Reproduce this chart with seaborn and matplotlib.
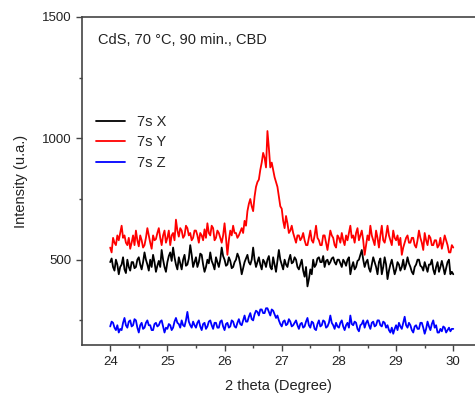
import numpy as np
import pandas as pd
import matplotlib
matplotlib.use("Agg")
import matplotlib.pyplot as plt
import seaborn as sns
from matplotlib.ticker import MultipleLocator

sns.set_style("ticks")
plt.rcParams['font.family'] = ['Liberation Sans', 'DejaVu Sans']

# 2 theta positions (degree), 0.025 step
theta = [round(24 + 0.025 * i, 3) for i in range(241)]

x_7s = [490, 505, 470, 455, 500, 480, 440, 470, 480, 510, 460, 445, 500, 470, 455, 490, 490, 465, 470, 500,
        510, 480, 460, 490, 530, 500, 480, 455, 500, 470, 520, 490, 450, 475, 495, 470, 540, 500, 470, 450,
        490, 515, 530, 495, 550, 510, 480, 460, 510, 485, 460, 500, 520, 475, 480, 505, 560, 520, 470, 490,
        510, 470, 490, 525, 520, 480, 450, 470, 500, 485, 530, 495, 480, 460, 510, 490, 470, 500, 550, 515,
        500, 475, 480, 510, 495, 465, 470, 490, 500, 525, 510, 480, 440, 465, 490, 505, 520, 490, 480, 500,
        550, 500, 470, 490, 510, 480, 460, 500, 490, 470, 500, 515, 470, 460, 510, 480, 450, 495, 540, 500,
        480, 460, 500, 480, 470, 500, 520, 485, 490, 510, 500, 470, 460, 480, 500, 455, 430, 470, 390, 420,
        460, 440, 500, 470, 480, 505, 510, 490, 490, 515, 470, 495, 500, 480, 490, 505, 510, 490, 480, 500,
        500, 485, 470, 500, 490, 475, 500, 510, 440, 470, 490, 460, 470, 495, 500, 520, 540, 500, 470, 490,
        500, 465, 450, 480, 510, 490, 470, 440, 490, 505, 440, 470, 510, 480, 420, 455, 480, 500, 470, 440,
        460, 490, 480, 455, 470, 500, 460, 480, 510, 485, 470, 450, 440, 470, 480, 500, 500, 475, 470, 455,
        490, 470, 450, 480, 480, 500, 460, 440, 470, 490, 450, 470, 495, 470, 440, 465, 490, 500, 440, 450,
        440]

y_7s = [550, 530, 590, 570, 560, 600, 580, 610, 640, 590, 600, 570, 560, 590, 545, 570, 600, 560, 620, 580,
        555, 600, 580, 550, 560, 590, 630, 600, 570, 545, 600, 580, 585, 610, 630, 590, 560, 600, 620, 570,
        590, 620, 560, 600, 610, 580, 665, 620, 595, 630, 620, 590, 600, 640, 630, 600, 610, 580, 590, 620,
        620, 600, 570, 610, 600, 580, 625, 590, 650, 610, 600, 640, 630, 580, 590, 620, 610, 590, 570, 600,
        650, 590, 520, 580, 620, 600, 640, 610, 610, 590, 600, 615, 630, 610, 660, 640, 700, 730, 750, 720,
        700, 760, 800, 820, 830, 870, 900, 940, 920, 880, 1030, 960, 880, 900, 870, 840, 820, 800, 760, 720,
        710, 660, 630, 680, 650, 610, 620, 640, 610, 590, 570, 600, 600, 580, 590, 610, 580, 560, 560, 590,
        620, 580, 570, 600, 640, 590, 580, 560, 560, 600, 600, 570, 540, 580, 620, 600, 590, 560, 550, 600,
        590, 570, 610, 580, 560, 600, 580, 610, 640, 590, 600, 570, 610, 630, 580, 600, 620, 580, 520, 560,
        600, 580, 640, 600, 580, 560, 620, 590, 550, 600, 640, 580, 570, 600, 640, 600, 580, 560, 620, 590,
        580, 600, 560, 590, 520, 550, 570, 590, 600, 570, 570, 590, 590, 560, 550, 580, 620, 590, 570, 540,
        610, 580, 560, 600, 590, 560, 560, 580, 580, 550, 560, 590, 545, 570, 600, 580, 560, 530, 530, 560,
        550]

z_7s = [225, 245, 240, 220, 210, 230, 200, 215, 210, 240, 260, 230, 220, 245, 250, 225, 230, 255, 250, 220,
        200, 230, 240, 215, 220, 240, 250, 230, 230, 210, 210, 235, 240, 225, 230, 245, 250, 225, 200, 220,
        215, 235, 230, 210, 220, 245, 260, 240, 235, 220, 250, 230, 225, 250, 285, 245, 230, 220, 245, 230,
        220, 240, 250, 225, 210, 235, 240, 215, 225, 245, 250, 230, 215, 240, 240, 220, 220, 245, 250, 225,
        210, 235, 240, 220, 225, 250, 245, 225, 220, 240, 255, 235, 230, 250, 270, 245, 245, 265, 280, 255,
        250, 275, 290, 285, 270, 295, 295, 280, 280, 300, 300, 285, 270, 295, 290, 275, 260, 270, 250, 235,
        225, 245, 250, 230, 235, 255, 245, 225, 230, 240, 250, 230, 215, 235, 240, 220, 225, 245, 260, 230,
        220, 245, 240, 215, 210, 235, 250, 225, 230, 250, 245, 220, 225, 240, 270, 240, 230, 215, 240, 225,
        220, 240, 250, 225, 210, 230, 240, 220, 270, 235, 230, 245, 240, 215, 205, 230, 235, 250, 220, 240,
        250, 230, 215, 240, 245, 225, 230, 250, 250, 230, 225, 245, 240, 220, 230, 210, 200, 220, 195, 215,
        230, 210, 240, 225, 215, 240, 265, 230, 220, 240, 230, 210, 200, 225, 230, 215, 215, 240, 240, 220,
        195, 215, 245, 225, 210, 235, 250, 220, 230, 200, 200, 215, 205, 225, 220, 200, 210, 220, 205, 215,
        215]

series_names = ['7s X', '7s Y', '7s Z']
series_colors = ['black', 'red', 'blue']

n = len(theta)
df = pd.DataFrame({
    'theta': theta * 3,
    'intensity': x_7s + y_7s + z_7s,
    'sample': [series_names[0]] * n + [series_names[1]] * n + [series_names[2]] * n,
})

fig = plt.figure(figsize=(4.75, 3.94), dpi=100)
ax = fig.add_axes([0.173, 0.124, 0.827, 0.833])

sns.lineplot(data=df, x='theta', y='intensity', hue='sample',
             palette=dict(zip(series_names, series_colors)),
             linewidth=1.3, ax=ax)

ax.set_xlim(23.51, 30.38)
ax.set_ylim(148, 1500)
ax.xaxis.set_major_locator(MultipleLocator(1))
ax.xaxis.set_minor_locator(MultipleLocator(0.5))
ax.yaxis.set_minor_locator(MultipleLocator(250))
ax.set_yticks([500, 1000, 1500])
ax.tick_params(axis='both', which='major', labelsize=9.5, length=4, width=1,
               colors='#444444', labelcolor='#222222')
ax.tick_params(axis='both', which='minor', length=2.5, width=1, colors='#444444')

for side in ['left', 'bottom', 'top']:
    ax.spines[side].set_color('#444444')
    ax.spines[side].set_linewidth(1.2)
ax.spines['right'].set_visible(False)

ax.set_xlabel('2 theta (Degree)', fontsize=10.5, labelpad=8, color='#222222')
ax.set_ylabel('Intensity (u.a.)', fontsize=10.5, labelpad=10, color='#222222')

ax.text(0.041, 0.93, 'CdS, 70 °C, 90 min., CBD', transform=ax.transAxes,
        fontsize=10.5, ha='left', va='center', color='#222222')

ax.legend(loc='upper left', bbox_to_anchor=(0.02, 0.72), frameon=False,
          borderaxespad=0, fontsize=10.5, handlelength=2.0,
          labelspacing=0.45, handletextpad=0.8)

fig.savefig('out.png', dpi=100)
